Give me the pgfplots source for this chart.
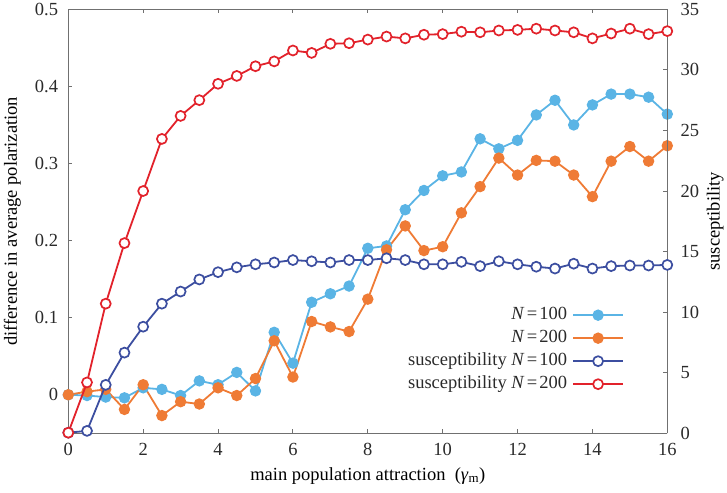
\documentclass[border=0pt]{standalone}
\usepackage{pgfplots}
\pgfplotsset{compat=1.18}
\usepackage{fontspec}
\setmainfont{Liberation Serif}
\definecolor{cLB}{HTML}{5AB4E5}
\definecolor{cOR}{HTML}{EF7B35}
\definecolor{cDB}{HTML}{3C4EA0}
\definecolor{cRD}{HTML}{E2222B}
\definecolor{axgray}{HTML}{707070}
\definecolor{txt}{HTML}{2A2A2A}
\begin{document}
\begin{tikzpicture}[font=\fontsize{18.5}{22}\selectfont]
\useasboundingbox (-68.3pt,-58.7pt) rectangle (658.7pt,433.3pt);
\pgfplotsset{
  common/.style={
    width=599pt, height=424pt, scale only axis,
    xmin=0, xmax=16, clip=false,
    axis line style={draw=axgray, line width=0.9pt},
    tick style={draw=axgray, line width=0.9pt},
    major tick length=4pt, tick align=inside,
    /pgf/number format/assume math mode=true,
    ticklabel style={text=txt},
    label style={text=txt},
  },
  lineA/.style={line width=1.8pt, mark=*, mark size=5.1pt, mark options={line width=1.2pt}},
  lineB/.style={line width=1.8pt, mark=*, mark size=5.0pt, mark options={line width=1.7pt, fill=white}},
}
\begin{axis}[common,
  ymin=-0.05, ymax=0.5,
  axis y line*=left,
  xtick={0,2,...,16},
  ytick={0,0.1,0.2,0.3,0.4,0.5},
  yticklabels={0,0.1,0.2,0.3,0.4,0.5},
  xticklabel style={inner sep=0pt, yshift=-10pt},
  yticklabel style={inner sep=0pt, xshift=-10pt},
  xlabel={main population attraction\hspace{0.5em}(\textit{γ}\textsubscript{m})},
  ylabel={difference in average polarization},
  every axis x label/.style={at={(axis description cs:0.5,0)}, yshift=-46.7pt, anchor=base},
  every axis y label/.style={at={(axis description cs:0,0.5)}, xshift=-56pt, rotate=90, anchor=center},
]
\addplot[lineA, color=cLB] coordinates {
(0,0.000) (0.5,-0.001) (1,-0.003) (1.5,-0.004) (2,0.009) (2.5,0.007) (3,-0.001) (3.5,0.018)
(4,0.013) (4.5,0.029) (5,0.005) (5.5,0.081) (6,0.041) (6.5,0.120) (7,0.131) (7.5,0.141)
(8,0.190) (8.5,0.193) (9,0.240) (9.5,0.265) (10,0.284) (10.5,0.289) (11,0.332) (11.5,0.319)
(12,0.330) (12.5,0.363) (13,0.382) (13.5,0.350) (14,0.376) (14.5,0.390) (15,0.390) (15.5,0.386) (16,0.364)
};
\addplot[lineA, color=cOR] coordinates {
(0,0.000) (0.5,0.004) (1,0.007) (1.5,-0.019) (2,0.013) (2.5,-0.027) (3,-0.009) (3.5,-0.012)
(4,0.009) (4.5,-0.001) (5,0.021) (5.5,0.070) (6,0.023) (6.5,0.095) (7,0.088) (7.5,0.082)
(8,0.124) (8.5,0.188) (9,0.219) (9.5,0.187) (10,0.192) (10.5,0.236) (11,0.270) (11.5,0.307)
(12,0.285) (12.5,0.304) (13,0.303) (13.5,0.285) (14,0.257) (14.5,0.303) (15,0.322) (15.5,0.303) (16,0.323)
};
\end{axis}
\begin{axis}[common,
  ymin=0, ymax=35,
  axis x line=none,
  axis y line*=right,
  ytick={0,5,...,35},
  yticklabel style={inner sep=0pt, xshift=13pt},
  ylabel={susceptibility},
  every axis y label/.style={at={(axis description cs:1,0.5)}, xshift=48pt, rotate=90, anchor=center},
  legend plot pos=right,
  legend cell align=right,
  legend style={draw=none, fill=none, inner sep=0pt, outer sep=0pt,
    at={(axis description cs:0.9277,0.301)}, anchor=north east,
    nodes={inner sep=1pt, text height=13pt, text depth=4pt, text=txt},
    row sep=4pt, column sep=4pt},
  legend image code/.code={\draw[mark repeat=2,mark phase=2] plot coordinates {(0pt,0pt) (25pt,0pt) (50pt,0pt)};},
]
\addlegendimage{lineA, color=cLB}
\addlegendentry{\textit{N}\hspace{0.12em}=\hspace{0.12em}100}
\addlegendimage{lineA, color=cOR}
\addlegendentry{\textit{N}\hspace{0.12em}=\hspace{0.12em}200}
\addplot[lineB, color=cDB] coordinates {
(0,0.05) (0.5,0.2) (1,4.0) (1.5,6.66) (2,8.8) (2.5,10.7) (3,11.7) (3.5,12.7)
(4,13.3) (4.5,13.7) (5,13.95) (5.5,14.1) (6,14.3) (6.5,14.2) (7,14.1) (7.5,14.3)
(8,14.3) (8.5,14.45) (9,14.3) (9.5,13.95) (10,13.95) (10.5,14.15) (11,13.8) (11.5,14.2)
(12,13.95) (12.5,13.75) (13,13.6) (13.5,14.0) (14,13.6) (14.5,13.8) (15,13.85) (15.5,13.85) (16,13.9)
};
\addlegendentry{susceptibility \textit{N}\hspace{0.12em}=\hspace{0.12em}100}
\addplot[lineB, color=cRD] coordinates {
(0,0.05) (0.5,4.2) (1,10.7) (1.5,15.7) (2,20.0) (2.5,24.3) (3,26.2) (3.5,27.5)
(4,28.85) (4.5,29.5) (5,30.3) (5.5,30.7) (6,31.6) (6.5,31.4) (7,32.15) (7.5,32.2)
(8,32.5) (8.5,32.75) (9,32.6) (9.5,32.9) (10,32.95) (10.5,33.15) (11,33.1) (11.5,33.25)
(12,33.3) (12.5,33.4) (13,33.25) (13.5,33.1) (14,32.6) (14.5,33.0) (15,33.4) (15.5,32.95) (16,33.2)
};
\addlegendentry{susceptibility \textit{N}\hspace{0.12em}=\hspace{0.12em}200}
\end{axis}
\end{tikzpicture}
\end{document}
